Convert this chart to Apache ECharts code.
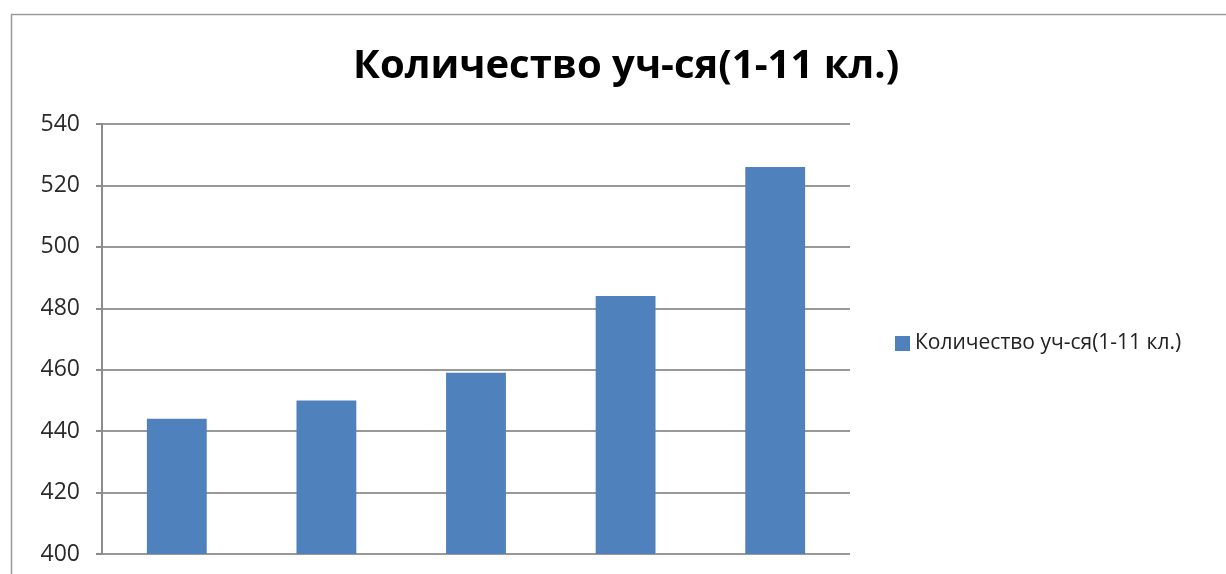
<!DOCTYPE html>
<html><head><meta charset="utf-8">
<script src="https://cdn.jsdelivr.net/npm/echarts@6/dist/echarts.min.js"></script>
<style>html,body{margin:0;padding:0;background:#fff}#c{width:1226px;height:574px}</style>
</head><body><div id="c"></div>
<script>
const titleText = 'Количество уч-ся(1-11 кл.)';
const seriesName = 'Количество уч-ся(1-11 кл.)';
const categories = ['1', '2', '3', '4', '5'];
const values = [444, 450, 459, 484, 526];
const yMin = 400, yMax = 540, yStep = 20;

const chart = echarts.init(document.getElementById('c'));
chart.setOption({
  animation: false,
  backgroundColor: '#fff',
  graphic: [{
    type: 'rect', left: 9, top: 12,
    shape: { width: 1240, height: 600 },
    style: { fill: 'none', stroke: '#9a9a9a', lineWidth: 1.5 },
    z: -1
  }],
  title: {
    text: titleText, left: 348, top: 42,
    textStyle: { fontFamily: 'Open Sans', fontWeight: 'bold', fontSize: 40, color: '#000' }
  },
  legend: {
    left: 890, top: 328, orient: 'vertical',
    itemWidth: 15, itemHeight: 15, itemGap: 6,
    icon: 'rect',
    textStyle: { fontFamily: 'Open Sans', fontSize: 21, color: '#222' },
    data: [seriesName]
  },
  grid: { left: 102, right: 376, top: 124, bottom: 20, containLabel: false },
  xAxis: {
    type: 'category', data: categories,
    axisLine: { show: false }, axisTick: { show: false }, axisLabel: { show: false }
  },
  yAxis: {
    type: 'value', min: yMin, max: yMax, interval: yStep,
    axisLine: { show: true, lineStyle: { color: '#8c8c8c', width: 2 } },
    axisTick: { show: true, length: 6, lineStyle: { color: '#8c8c8c', width: 2 } },
    axisLabel: { fontFamily: 'Open Sans', fontSize: 23, color: '#2a2a2a', margin: 22 },
    splitLine: { lineStyle: { color: '#999', width: 2 } }
  },
  series: [{
    name: seriesName, type: 'bar', data: values,
    barWidth: '40%',
    itemStyle: { color: '#4f81bd' }
  }]
});
</script></body></html>
